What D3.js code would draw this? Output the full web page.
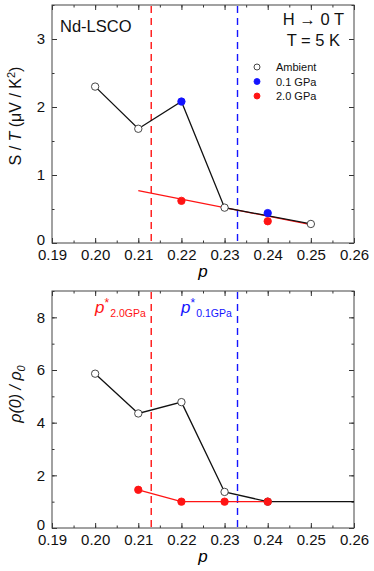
<!DOCTYPE html>
<html>
<head>
<meta charset="utf-8">
<script src="https://cdn.jsdelivr.net/npm/d3@7"></script>
<style>
  body { margin: 0; background: #fff; }
  svg { font-family: "Liberation Sans", Arial, sans-serif; }
</style>
</head>
<body>
<div id="chart"></div>
<script>
//data
const pTicks = [0.19, 0.20, 0.21, 0.22, 0.23, 0.24, 0.25, 0.26];
const pStarRed = 0.213;   // p* at 2.0 GPa
const pStarBlue = 0.233;  // p* at 0.1 GPa

// top panel: S/T
const sLineP = [0.20, 0.21, 0.22, 0.23, 0.25];
const sLineV = [2.30, 1.68, 2.08, 0.52, 0.28];
const sAmbP = [0.20, 0.21, 0.23, 0.25];
const sAmbV = [2.30, 1.68, 0.52, 0.28];
const sBlueP = [0.22, 0.24];
const sBlueV = [2.08, 0.44];
const sRedP = [0.22, 0.24];
const sRedV = [0.62, 0.32];
const sRedFitP = [0.21, 0.25];
const sRedFitV = [0.77, 0.27];
const sTicks = [0, 1, 2, 3];

// bottom panel: rho(0)/rho0
const rLineP = [0.20, 0.21, 0.22, 0.23, 0.24, 0.26];
const rLineV = [5.86, 4.35, 4.78, 1.37, 1.00, 1.00];
const rAmbP = [0.20, 0.21, 0.22, 0.23, 0.24];
const rAmbV = [5.86, 4.35, 4.78, 1.37, 1.00];
const rRedP = [0.21, 0.22, 0.23, 0.24];
const rRedV = [1.45, 1.00, 1.00, 1.00];
const rTicks = [0, 2, 4, 6, 8];

const legendNames = ["Ambient", "0.1 GPa", "2.0 GPa"];

const RED = "#ff1414", BLUE = "#1414ff";

let svg = d3.select("#chart").append("svg")
            .attr("width", 374)
            .attr("height", 571);

//helper: zip two arrays into pairs
function zip(a, b) { return a.map(function(d, i) { return [d, b[i]] }); }

//draws one boxed panel with inward ticks on all four sides
function makePanel(top, bottom, ymax, yTicks, yMinorStep) {
  let x = d3.scaleLinear().domain([0.19, 0.26]).range([52, 354]);
  let y = d3.scaleLinear().domain([0, ymax]).range([bottom, top]);
  let g = svg.append("g");

  let xMinor = d3.range(0.19, 0.2601, 0.005);
  let yMinor = d3.range(0, ymax + 0.001, yMinorStep);

  //minor ticks
  g.append("g").attr("transform", `translate(0,${bottom})`)
   .call(d3.axisBottom(x).tickValues(xMinor).tickSize(-2.5).tickFormat(""));
  g.append("g").attr("transform", `translate(0,${top})`)
   .call(d3.axisTop(x).tickValues(xMinor).tickSize(-2.5).tickFormat(""));
  g.append("g").attr("transform", `translate(52,0)`)
   .call(d3.axisLeft(y).tickValues(yMinor).tickSize(-2.5).tickFormat(""));
  g.append("g").attr("transform", `translate(354,0)`)
   .call(d3.axisRight(y).tickValues(yMinor).tickSize(-2.5).tickFormat(""));

  //major ticks with labels
  g.append("g").attr("class", "xax").attr("transform", `translate(0,${bottom})`)
   .call(d3.axisBottom(x).tickValues(pTicks).tickSize(-5).tickPadding(6).tickFormat(d3.format(".2f")));
  g.append("g").attr("transform", `translate(0,${top})`)
   .call(d3.axisTop(x).tickValues(pTicks).tickSize(-5).tickFormat(""));
  let yax = g.append("g").attr("class", "yax").attr("transform", `translate(52,0)`)
   .call(d3.axisLeft(y).tickValues(yTicks).tickSize(-5).tickPadding(7).tickFormat(d3.format("d")));
  g.append("g").attr("transform", `translate(354,0)`)
   .call(d3.axisRight(y).tickValues(yTicks).tickSize(-5).tickFormat(""));

  g.selectAll(".domain").remove();
  g.selectAll(".tick line").attr("stroke", "#333").attr("stroke-width", 1);
  g.selectAll(".tick text").attr("font-size", 15).attr("fill", "#111")
   .attr("font-family", "Liberation Sans, Arial, sans-serif");

  //lift the "0" label a bit so it clears the x tick labels
  yax.selectAll(".tick text").filter(function(d) { return d === 0 })
     .attr("dy", "0.12em");

  //frame
  g.append("rect")
   .attr("x", 52).attr("y", top)
   .attr("width", 302).attr("height", bottom - top)
   .attr("fill", "none").attr("stroke", "#444").attr("stroke-width", 1);

  //p* dashed lines
  [[pStarRed, RED], [pStarBlue, BLUE]].forEach(function(d) {
    g.append("line")
     .attr("x1", x(d[0])).attr("x2", x(d[0]))
     .attr("y1", top + 1).attr("y2", bottom)
     .attr("stroke", d[1]).attr("stroke-width", 1.4)
     .attr("stroke-dasharray", "7,5");
  });

  //x axis title
  g.append("text")
   .attr("x", 203).attr("y", bottom + 34)
   .attr("text-anchor", "middle")
   .attr("font-size", 17).attr("font-style", "italic")
   .text("p");

  return { g: g, x: x, y: y };
}

function drawLine(panel, pts, color) {
  let line = d3.line().x(function(d) { return panel.x(d[0]) })
                      .y(function(d) { return panel.y(d[1]) });
  panel.g.append("path").datum(pts)
         .attr("d", line).attr("fill", "none")
         .attr("stroke", color).attr("stroke-width", 1.3);
}

function drawDots(panel, pts, fill, stroke) {
  panel.g.selectAll(null).data(pts).enter()
         .append("circle")
         .attr("cx", function(d) { return panel.x(d[0]) })
         .attr("cy", function(d) { return panel.y(d[1]) })
         .attr("r", 3.7)
         .attr("fill", fill)
         .attr("stroke", stroke)
         .attr("stroke-width", 0.9);
}

////////////////// top panel ////////////////////////////////////
let p1 = makePanel(5, 243, 3.5, sTicks, 0.5);
drawLine(p1, zip(sRedFitP, sRedFitV), RED);
drawLine(p1, zip(sLineP, sLineV), "#111");
drawDots(p1, zip(sAmbP, sAmbV), "#fff", "#333");
drawDots(p1, zip(sBlueP, sBlueV), BLUE, BLUE);
drawDots(p1, zip(sRedP, sRedV), RED, RED);

//annotations
p1.g.append("text").attr("x", 60).attr("y", 32)
    .attr("font-size", 16.5).attr("fill", "#111").text("Nd-LSCO");
p1.g.append("text").attr("x", 344).attr("y", 25).attr("text-anchor", "end")
    .attr("font-size", 16.5).attr("fill", "#111").text("H \u2192 0 T");
p1.g.append("text").attr("x", 340).attr("y", 46).attr("text-anchor", "end")
    .attr("font-size", 16.5).attr("fill", "#111").text("T = 5 K");

//legend
let legendStyle = [["#fff", "#333"], [BLUE, BLUE], [RED, RED]];
legendNames.forEach(function(name, i) {
  let ly = 67 + i * 14.5;
  p1.g.append("circle").attr("cx", 257).attr("cy", ly).attr("r", 3)
      .attr("fill", legendStyle[i][0]).attr("stroke", legendStyle[i][1]).attr("stroke-width", 0.9);
  p1.g.append("text").attr("x", 276).attr("y", ly + 4)
      .attr("font-size", 11).attr("fill", "#111").text(name);
});

//y axis title
let yt1 = p1.g.append("text")
    .attr("transform", "translate(21,116) rotate(-90)")
    .attr("text-anchor", "middle")
    .attr("font-size", 16).attr("fill", "#111");
yt1.append("tspan").text("S / ");
yt1.append("tspan").attr("font-style", "italic").text("T");
yt1.append("tspan").text(" (\u03bcV / K");
yt1.append("tspan").attr("font-size", 11).attr("dy", -6).text("2");
yt1.append("tspan").attr("dy", 6).text(")");

////////////////// bottom panel ////////////////////////////////////
let p2 = makePanel(291, 528, 9, rTicks, 1);
drawLine(p2, zip(rLineP, rLineV), "#111");
drawLine(p2, zip(rRedP, rRedV), RED);
drawDots(p2, zip(rAmbP, rAmbV), "#fff", "#333");
drawDots(p2, zip(rRedP, rRedV), RED, RED);

//p* labels
[[95, RED, "2.0GPa"], [181, BLUE, "0.1GPa"]].forEach(function(d) {
  let t = p2.g.append("text").attr("x", d[0]).attr("y", 313)
              .attr("fill", d[1]).attr("font-size", 17);
  t.append("tspan").attr("font-style", "italic").text("p");
  t.append("tspan").attr("font-size", 12).attr("dy", -6).text("*");
  t.append("tspan").attr("font-size", 10.5).attr("dy", 10).attr("dx", 1).text(d[2]);
});

//y axis title
let yt2 = p2.g.append("text")
    .attr("transform", "translate(21,394) rotate(-90)")
    .attr("text-anchor", "middle")
    .attr("font-size", 16).attr("font-style", "italic").attr("fill", "#111");
yt2.append("tspan").text("\u03c1(0) / \u03c1");
yt2.append("tspan").attr("font-size", 11).attr("dy", 4).text("0");
</script>
</body>
</html>
